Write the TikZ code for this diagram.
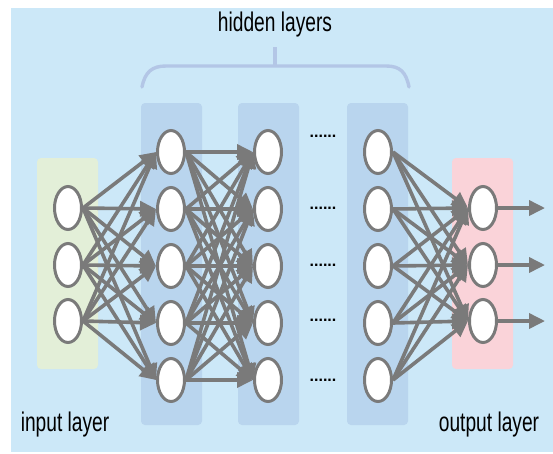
\documentclass[tikz,border=0pt]{standalone}
\usepackage{fontspec}
\setmainfont{Liberation Sans}
\newfontfamily\labfont[FakeStretch=0.71]{Liberation Sans}
\usetikzlibrary{arrows.meta,shapes.geometric}
\definecolor{bgblue}{HTML}{CCE8F8}
\definecolor{hidbox}{HTML}{B9D5EE}
\definecolor{inbox}{HTML}{E3EFD8}
\definecolor{outbox}{HTML}{FAD3D9}
\definecolor{edgegray}{HTML}{7A7A7A}
\definecolor{bracecol}{HTML}{B3C6E6}
\pgfdeclarelayer{bglayer}
\pgfdeclarelayer{midlayer}
\pgfsetlayers{bglayer,midlayer,main}
\tikzset{
  neuron/.style={ellipse, draw=edgegray, fill=white, line width=3, minimum width=27, minimum height=43, inner sep=0},
  conn/.style={draw=edgegray, line width=3.6, -{Triangle[length=16,width=15]}},
  lab/.style={font=\labfont\fontsize{27}{32}\selectfont, text=black},
  dotsnode/.style={font=\bfseries\fontsize{16}{18}\selectfont, inner sep=0},
}
\begin{document}
\begin{tikzpicture}[x=1pt,y=-1pt]
\useasboundingbox (0,0) rectangle (553,453);
\begin{pgfonlayer}{bglayer}
\fill[bgblue] (11,8) rectangle (553,452);
\fill[inbox, rounded corners=4] (37,158) rectangle (98,369);
\fill[hidbox, rounded corners=4] (141,103) rectangle (202,425);
\fill[hidbox, rounded corners=4] (238,103) rectangle (299,425);
\fill[hidbox, rounded corners=4] (347,103) rectangle (408,425);
\fill[outbox, rounded corners=4] (452,158) rectangle (513,369);
\end{pgfonlayer}
% brace
\draw[bracecol, line width=3.4, line cap=round] (142,87) .. controls (145,72) and (152,66) .. (166,66) -- (386,66) .. controls (400,66) and (406,72) .. (409,87);
\draw[bracecol, line width=3.4] (275,66) -- (275,47);
\node[lab] (hl) at (275,25) {hidden layers};
\node[lab, anchor=base] (il) at (65,431) {input layer};
\node[lab, anchor=base] (ol) at (489,431) {output layer};
% neurons
\foreach \i/\y in {1/208,2/265,3/321} {
  \node[neuron] (i\i) at (68,\y) {};
  \node[neuron] (o\i) at (483,\y) {};
}
\foreach \i/\y in {1/152,2/209,3/266,4/323,5/380} {
  \node[neuron] (a\i) at (171,\y) {};
  \node[neuron] (b\i) at (268,\y) {};
  \node[neuron] (c\i) at (378,\y) {};
}
% dots
\foreach \i/\y in {1/136,2/208,3/265,4/320,5/380} {
  \node[dotsnode] (d\i) at (323,\y) {......};
}
% connections
\begin{pgfonlayer}{midlayer}
\foreach \s in {1,2,3} \foreach \t in {1,...,5} {
  \draw[conn] (i\s.east) -- (a\t.west);
}
\foreach \s in {1,...,5} \foreach \t in {1,...,5} {
  \draw[conn] (a\s.east) -- (b\t.west);
}
\foreach \s in {1,...,5} \foreach \t in {1,2,3} {
  \draw[conn] (c\s.east) -- (o\t.west);
}
\foreach \i/\y in {1/208,2/265,3/321} {
  \coordinate (e\i) at (545,\y);
  \draw[conn] (o\i.east) -- (e\i);
}
\end{pgfonlayer}
\end{tikzpicture}
\end{document}
